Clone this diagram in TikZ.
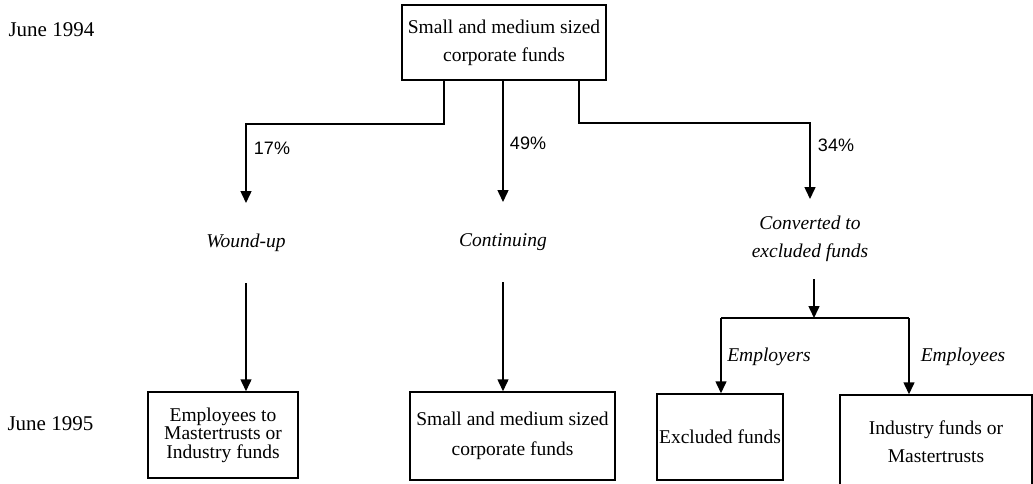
\documentclass[tikz,border=0pt]{standalone}
\usepackage{fontspec}
\setmainfont{Liberation Serif}
\setsansfont{Liberation Sans}
\usepackage{tikz}
\usetikzlibrary{arrows.meta, positioning, calc}
\tikzset{
    fundbox/.style={rectangle, draw=black, line width=1.5pt, align=center, inner sep=0pt, font=\fontsize{19.5}{28}\selectfont},
    state/.style={rectangle, align=center, inner sep=0pt, outer sep=0pt, minimum height=80pt, font=\fontsize{19.5}{28}\selectfont\itshape},
    share/.style={font=\sffamily\fontsize{18}{20}\selectfont},
    who/.style={font=\fontsize{19.5}{22}\selectfont\itshape},
    date/.style={anchor=west, font=\fontsize{21}{24}\selectfont},
    arrow/.style={line width=1.5pt, -{Triangle[length=12pt, width=11pt]}},
    link/.style={line width=1.5pt}
}
\begin{document}
\begin{tikzpicture}[x=1pt, y=-1pt]
    \useasboundingbox (0,0) rectangle (1033,484);

    \node[date] (y94) at (5,30) {June 1994};
    \node[date] (y95) at (4,424) {June 1995};

    \node[fundbox, minimum width=204pt, minimum height=75pt] (top) at (504,42.5) {Small and medium sized\\corporate funds};

    \node[state] (wound) at (246,243) {Wound-up};
    \node[state] (cont) at (503,242) {Continuing};
    \node[state] (conv) at (810,239) {Converted to\\excluded funds};

    \node[share] (p17) at (272,148) {17\%};
    \node[share] (p49) at (528,143) {49\%};
    \node[share] (p34) at (836,145) {34\%};

    \node[fundbox, minimum width=150pt, minimum height=86pt, font=\fontsize{19.5}{18.5}\selectfont] (emp) at (223,435) {Employees to\\Mastertrusts or\\Industry funds};
    \node[fundbox, minimum width=205pt, minimum height=88pt, font=\fontsize{19.5}{30}\selectfont] (same) at (512.5,436) {Small and medium sized\\corporate funds};
    \node[fundbox, minimum width=126pt, minimum height=86pt] (excl) at (720,437) {Excluded funds};
    \node[fundbox, minimum width=192pt, minimum height=94pt] (indus) at (936,442) {Industry funds or\\Mastertrusts};

    \node[who] (emplr) at (769,357) {Employers};
    \node[who] (emple) at (963,357) {Employees};

    \coordinate (kL) at (444,124);
    \coordinate (kR) at (579,123);
    \coordinate (sL) at (721,318);
    \coordinate (sR) at (909,318);

    \draw[arrow] (top.south -| kL) -- (kL) -| (wound.north);
    \draw[arrow] (top.south -| cont.north) -- (cont.north);
    \draw[arrow] (top.south -| kR) -- (kR) -| (conv.north);

    \draw[arrow] (wound.south) -- (wound.south |- emp.north);
    \draw[arrow] (cont.south) -- (cont.south |- same.north);

    \draw[arrow] ([xshift=4pt]conv.south) -- ([xshift=4pt]conv.south |- sL);
    \draw[link] (sL) -- (sR);
    \draw[arrow] (sL) -- (sL |- excl.north);
    \draw[arrow] (sR) -- (sR |- indus.north);
\end{tikzpicture}
\end{document}
